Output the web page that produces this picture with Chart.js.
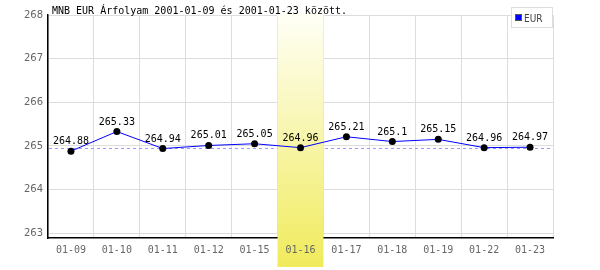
<!DOCTYPE html>
<html>
<head>
<meta charset="utf-8">
<script src="https://cdn.jsdelivr.net/npm/chart.js@4"></script>
<style>
  html, body { margin: 0; padding: 0; background: #fff; }
  #wrap { width: 600px; height: 270px; }
</style>
</head>
<body>
<div id="wrap"><canvas id="rate_chart" width="600" height="270"></canvas></div>
<script>
// árfolyam adatok (MNB EUR)
const DAYS      = ["01-09", "01-10", "01-11", "01-12", "01-15", "01-16", "01-17", "01-18", "01-19", "01-22", "01-23"];
const EUR_RATES = [264.88, 265.33, 264.94, 265.01, 265.05, 264.96, 265.21, 265.1, 265.15, 264.96, 264.97];
const Y_TICKS   = [263, 264, 265, 266, 267, 268];
const REF_RATE  = [264.95];
const HIGHLIGHT = ["01-16"];
const TITLE     = "MNB EUR Árfolyam 2001-01-09 és 2001-01-23 között.";

const GRID_COLOR = "#dddddd";
const TICK_COLOR = "#666666";
const MONO = "'DejaVu Sans Mono', monospace";

function bandGradient(ctx, top) {
  const g = ctx.createLinearGradient(0, top, 0, 267);
  g.addColorStop(0, "#fffff6");
  g.addColorStop(1, "#f0eb5c");
  return g;
}

function bandBounds(chart) {
  const x = chart.scales.x;
  const idx = DAYS.indexOf(HIGHLIGHT[0]);
  const half = (x.getPixelForValue(1) - x.getPixelForValue(0)) / 2;
  const c = x.getPixelForValue(idx);
  return { left: c - half, right: c + half };
}

const decorPlugin = {
  id: "decor",
  beforeDraw(chart) {
    // kiemelt nap sávja a tengely alatt (címke alá)
    const { ctx, chartArea } = chart;
    const b = bandBounds(chart);
    ctx.save();
    ctx.fillStyle = bandGradient(ctx, chartArea.top);
    ctx.fillRect(b.left, chartArea.bottom, b.right - b.left, 267 - chartArea.bottom);
    ctx.restore();
  },
  beforeDatasetsDraw(chart) {
    // referencia szaggatott vonal
    const { ctx, chartArea } = chart;
    const y = Math.round(chart.scales.y.getPixelForValue(REF_RATE[0])) + 0.5;
    ctx.save();
    ctx.strokeStyle = "#9999ff";
    ctx.lineWidth = 1;
    ctx.setLineDash([3, 3]);
    ctx.beginPath();
    ctx.moveTo(chartArea.left + 1, y);
    ctx.lineTo(chartArea.right, y);
    ctx.stroke();
    ctx.restore();
  },
  beforeDatasetDraw(chart, args) {
    if (args.index !== 0) return;
    const { ctx, chartArea } = chart;
    const b = bandBounds(chart);
    ctx.save();
    ctx.fillStyle = bandGradient(ctx, chartArea.top);
    ctx.fillRect(b.left, chartArea.top - 2, b.right - b.left, chartArea.bottom - chartArea.top + 3);
    ctx.restore();
  },
  afterDatasetsDraw(chart) {
    const { ctx } = chart;
    const meta = chart.getDatasetMeta(0);
    ctx.save();
    ctx.font = "10px " + MONO;
    ctx.fillStyle = "#000";
    ctx.textAlign = "center";
    ctx.textBaseline = "alphabetic";
    meta.data.forEach((pt, i) => {
      ctx.fillText(String(EUR_RATES[i]), pt.x, pt.y - 7);
    });
    ctx.restore();
  },
  afterDraw(chart) {
    const { ctx, chartArea } = chart;
    ctx.save();
    // cím
    ctx.font = "10px " + MONO;
    ctx.fillStyle = "#000";
    ctx.textAlign = "left";
    ctx.textBaseline = "alphabetic";
    ctx.fillText(TITLE, 52, 14);

    // jelmagyarázat
    const bx = 511.5, by = 7.5, bw = 41, bh = 20;
    ctx.fillStyle = "#fff";
    ctx.fillRect(bx, by, bw, bh);
    ctx.strokeStyle = GRID_COLOR;
    ctx.lineWidth = 1;
    ctx.strokeRect(bx, by, bw, bh);
    ctx.fillStyle = "#0000ff";
    ctx.fillRect(515.5, 14.5, 6, 6);
    ctx.strokeStyle = "#555";
    ctx.strokeRect(515.5, 14.5, 6, 6);
    ctx.fillStyle = "#444";
    ctx.font = "10px 'DejaVu Sans Condensed', 'DejaVu Sans', sans-serif";
    ctx.fillText(chart.data.datasets[0].label, 524, 21.5);
    ctx.restore();
  },
};

new Chart(document.getElementById("rate_chart"), {
  type: "line",
  data: {
    labels: DAYS,
    datasets: [{
      label: "EUR",
      data: EUR_RATES,
      borderColor: "#0000ff",
      borderWidth: 1,
      tension: 0,
      pointRadius: 3.5,
      pointBackgroundColor: "#000",
      pointBorderColor: "#000",
      pointBorderWidth: 0,
    }],
  },
  options: {
    responsive: false,
    animation: false,
    layout: { padding: { top: 15, right: 47, left: 0, bottom: 0 } },
    plugins: {
      legend: { display: false },
      title: { display: false },
      tooltip: { enabled: false },
    },
    scales: {
      x: {
        type: "category",
        offset: true,
        afterFit: (s) => { s.height = 32; },
        grid: { offset: true, color: GRID_COLOR, drawTicks: false },
        border: { color: "#000", width: 1.5 },
        ticks: { color: TICK_COLOR, font: { family: MONO, size: 10 }, padding: 6, maxRotation: 0, autoSkip: false },
      },
      y: {
        min: 262.89,
        max: 268,
        afterFit: (s) => { s.width = 48; },
        afterBuildTicks: (s) => { s.ticks = Y_TICKS.map((v) => ({ value: v })); },
        grid: { color: GRID_COLOR, drawTicks: false },
        border: { color: "#000", width: 1.5 },
        ticks: { color: TICK_COLOR, font: { family: "'DejaVu Sans', sans-serif", size: 10 }, padding: 5 },
      },
    },
  },
  plugins: [decorPlugin],
});
</script>
</body>
</html>
